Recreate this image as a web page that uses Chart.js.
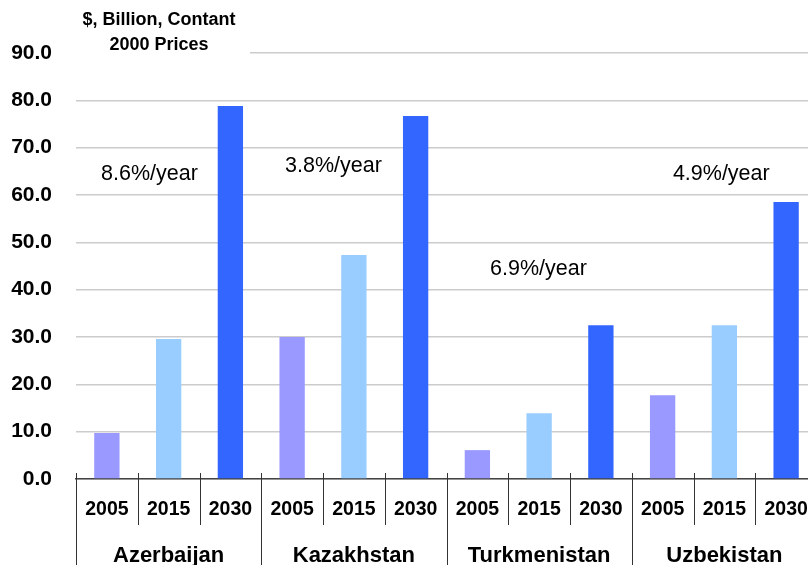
<!DOCTYPE html>
<html>
	<head>
		<meta charset="UTF-8">
		<title>GDP</title>
		<script src="https://cdn.jsdelivr.net/npm/chart.js"></script>
		<style>
			*{margin:0; padding:0;}
			html, body{overflow:hidden; background:#fff;}
			#wrap{width:818px; height:565px; position:relative;}
		</style>
	</head>
	<body>
		<div id="wrap">
			<canvas id="myChart" width="818" height="565"></canvas>
		</div>
		<script>
			// data
			const countries = ["Azerbaijan", "Kazakhstan", "Turkmenistan", "Uzbekistan"];
			const years = ["2005", "2015", "2030"];
			const gdp2005 = [9.7, 30.0, 6.1, 17.7];
			const gdp2015 = [29.6, 47.3, 13.9, 32.5];
			const gdp2030 = [78.8, 76.7, 32.5, 58.5];
			const growth = ["8.6%/year", "3.8%/year", "6.9%/year", "4.9%/year"];
			// where each growth note sits (category index, value)
			const growthX = [0.69, 3.67, 6.99, 9.95];
			const growthY = [64.5, 66.2, 44.3, 64.5];
			const yTicks = [0, 10, 20, 30, 40, 50, 60, 70, 80, 90];

			const colors = ["#9999ff", "#99ccff", "#3366ff"];
			const FONT = "'Liberation Sans', Arial, sans-serif";

			let labels = [];
			let values = [];
			let barColors = [];
			for(let i=0; i<countries.length; i++){
				const row = [gdp2005[i], gdp2015[i], gdp2030[i]];
				for(let j=0; j<years.length; j++){
					labels.push(years[j]);
					values.push(row[j]);
					barColors.push(colors[j]);
				}
			}

			// fixed axis height, no side padding from the tick labels
			function fitX(h){
				return (scale) => {
					scale.height = h;
					scale.paddingLeft = 0;
					scale.paddingRight = 0;
				};
			}

			// separators under the axis, title and growth notes
			const extras = {
				id: "extras",
				afterDraw(chart){
					const ctx = chart.ctx;
					const x = chart.scales.x;
					const x2 = chart.scales.x2;
					const area = chart.chartArea;
					const half = (x.getPixelForValue(1) - x.getPixelForValue(0)) / 2;
					ctx.save();
					ctx.strokeStyle = "#333";
					ctx.lineWidth = 1;
					for(let i=0; i<=labels.length; i++){
						const px = Math.round(x.getPixelForValue(i) - half) + 0.5;
						const bottom = (i % 3 === 0) ? x2.bottom : x2.top;
						ctx.beginPath();
						ctx.moveTo(px, area.bottom - 6);
						ctx.lineTo(px, bottom);
						ctx.stroke();
					}

					// title box covers the top gridline
					ctx.fillStyle = "#fff";
					ctx.fillRect(area.left, area.top - 4, 250 - area.left, 8);
					ctx.fillStyle = "#000";
					ctx.textAlign = "center";
					ctx.textBaseline = "middle";
					ctx.font = "bold 18px " + FONT;
					ctx.fillText("$, Billion, Contant", 159, 20);
					ctx.fillText("2000 Prices", 159, 45);

					ctx.font = "21.5px " + FONT;
					const y = chart.scales.y;
					for(let i=0; i<growth.length; i++){
						ctx.fillText(growth[i], x.getPixelForValue(growthX[i]), y.getPixelForValue(growthY[i]));
					}
					ctx.restore();
				}
			};

			const ctx = document.getElementById('myChart');
			new Chart(ctx, {
				type: 'bar',
				data: {
					labels: labels,
					datasets: [{
						data: values,
						backgroundColor: barColors,
						borderWidth: 0,
						barPercentage: 0.41,
						categoryPercentage: 1.0
					}]
				},
				options: {
					responsive: false,
					animation: false,
					devicePixelRatio: 1,
					// canvas is wider than the page, last category runs off the edge
					layout: { padding: { top: 53, right: 1, left: 0, bottom: 0 } },
					plugins: {
						legend: { display: false },
						tooltip: { enabled: false }
					},
					scales: {
						y: {
							min: 0,
							max: 90,
							afterBuildTicks: (scale) => { scale.ticks = yTicks.map(v => ({ value: v })); },
							afterFit: (scale) => { scale.width = 76; },
							border: { display: false },
							grid: { color: "#cccccc", lineWidth: 1.5, drawTicks: false },
							ticks: {
								padding: 24,
								color: "#000",
								font: { family: FONT, size: 21, weight: "bold" },
								callback: (v) => Number(v).toFixed(1)
							}
						},
						x: {
							position: 'bottom',
							afterFit: fitX(46),
							border: { display: true, color: "#444", width: 1.5 },
							grid: { display: false, drawTicks: false },
							ticks: {
								padding: 19,
								color: "#000",
								maxRotation: 0,
								autoSkip: false,
								font: { family: FONT, size: 19.5, weight: "bold" }
							}
						},
						x2: {
							type: 'category',
							position: 'bottom',
							labels: countries,
							offset: true,
							afterFit: fitX(40),
							border: { display: false },
							grid: { display: false, drawTicks: false },
							ticks: {
								padding: 18,
								color: "#000",
								maxRotation: 0,
								autoSkip: false,
								font: { family: FONT, size: 22, weight: "bold" }
							}
						}
					}
				},
				plugins: [extras]
			});
		</script>
	</body>
</html>
